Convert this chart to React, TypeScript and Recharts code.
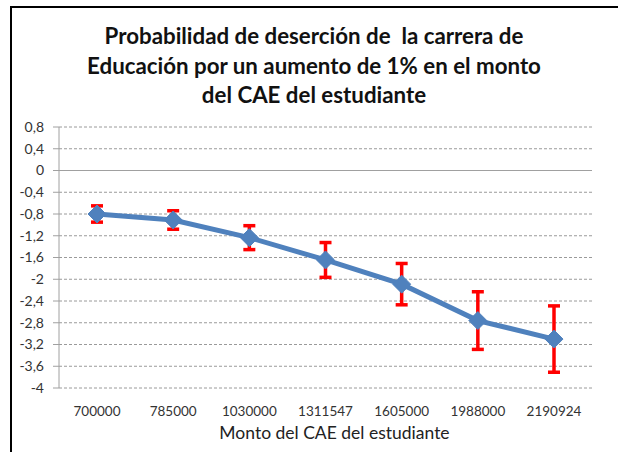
import { LineChart, Line, XAxis, YAxis, CartesianGrid, ReferenceLine, ErrorBar } from 'recharts'

const categories = ['700000', '785000', '1030000', '1311547', '1605000', '1988000', '2190924']
const values = [-0.8, -0.91, -1.235, -1.645, -2.09, -2.76, -3.1]
const errors = [0.15, 0.17, 0.22, 0.32, 0.38, 0.53, 0.61]
const yTicks = [0.8, 0.4, 0, -0.4, -0.8, -1.2, -1.6, -2, -2.4, -2.8, -3.2, -3.6, -4]

const titleLines = [
  'Probabilidad de deserción de  la carrera de',
  'Educación por un aumento de 1% en el monto',
  'del CAE del estudiante',
]
const xTitle = 'Monto del CAE del estudiante'

const data = categories.map((c, i) => ({ cat: c, v: values[i], err: errors[i] }))

const BLUE = '#4F81BD'
const FONT = 'Lato, "Open Sans", sans-serif'

function Diamond(props: any) {
  const { cx, cy } = props
  if (cx == null || cy == null) return null
  const r = 9
  return (
    <path
      d={`M${cx},${cy - r} L${cx + r},${cy} L${cx},${cy + r} L${cx - r},${cy} Z`}
      fill={BLUE}
      stroke={BLUE}
      strokeWidth={1}
    />
  )
}

export default function App() {
  return (
    <div style={{
      position: 'fixed', left: 0, top: 0, width: 618, height: 452,
      background: '#fff', overflow: 'hidden', fontFamily: FONT,
    }}>
      {/* frame, runs off the right and bottom edges */}
      <div style={{
        position: 'absolute', left: 10, top: 6, width: 700, height: 600,
        border: '2px solid #000', boxSizing: 'border-box',
      }} />

      {/* title */}
      <div style={{
        position: 'absolute', left: 0, top: 21, width: 628, textAlign: 'center',
        fontSize: 22.3, fontWeight: 700, lineHeight: '29.5px', color: '#111', whiteSpace: 'pre',
      }}>
        {titleLines.map(l => <div key={l}>{l}</div>)}
      </div>

      <div style={{ position: 'absolute', left: 0, top: 0 }}>
        <LineChart width={618} height={452} data={data} margin={{ top: 127, right: 26, left: 14, bottom: 24 }}>
          <CartesianGrid vertical={false} stroke="#9a9a9a" strokeDasharray="3 2" />
          <XAxis
            dataKey="cat"
            axisLine={false}
            tickLine={false}
            height={40}
            tickMargin={12}
            padding={{ left: 38, right: 38 }}
            tick={{ fill: '#333', fontSize: 13.5, fontFamily: FONT }}
            interval={0}
          />
          <YAxis
            domain={[-4, 0.8]}
            ticks={yTicks}
            width={45}
            interval={0}
            tickFormatter={(v: number) => String(Math.round(v * 10) / 10).replace('.', ',')}
            axisLine={{ stroke: '#a0a0a0' }}
            tickLine={{ stroke: '#a0a0a0' }}
            tickSize={6}
            tickMargin={9}
            tick={{ fill: '#333', fontSize: 14, fontFamily: FONT }}
          />
          <ReferenceLine y={0} stroke="#a0a0a0" strokeWidth={1} />
          <Line
            type="linear"
            dataKey="v"
            stroke={BLUE}
            strokeWidth={5}
            dot={<Diamond />}
            isAnimationActive={false}
          >
            <ErrorBar dataKey="err" width={6} stroke="#ff0000" strokeWidth={3.5} direction="y" isAnimationActive={false} />
          </Line>
        </LineChart>
      </div>

      {/* x axis title */}
      <div style={{
        position: 'absolute', left: 68, top: 422, width: 533,
        textAlign: 'center', fontSize: 17.5, lineHeight: '22px', color: '#222', whiteSpace: 'nowrap',
      }}>
        {xTitle}
      </div>
    </div>
  )
}
